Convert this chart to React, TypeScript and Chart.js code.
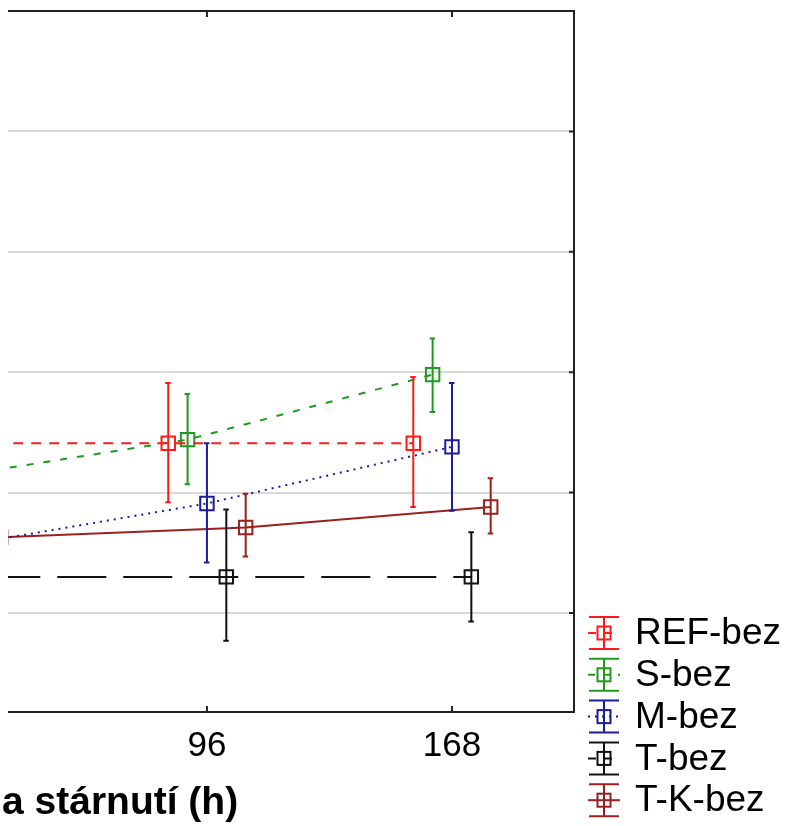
import React, { useEffect, useRef } from 'react';
import { Chart, registerables } from 'chart.js';

Chart.register(...registerables);

// ---- data ----
const categories = ['24', '96', '168'];
const seriesNames = ['REF-bez', 'S-bez', 'M-bez', 'T-bez', 'T-K-bez'];

const refMean = [2.41, 2.41, 2.41];
const refLow = [1.9, 1.92, 1.88];
const refHigh = [2.92, 2.91, 2.96];

const sMean = [2.12, 2.44, 2.98];
const sLow = [1.8, 2.07, 2.67];
const sHigh = [2.44, 2.82, 3.28];

const mMean = [1.56, 1.91, 2.38];
const mLow = [1.1, 1.42, 1.85];
const mHigh = [2.02, 2.41, 2.91];

const tMean = [1.3, 1.3, 1.3];
const tLow = [0.85, 0.77, 0.93];
const tHigh = [1.75, 1.86, 1.67];

const tkMean = [1.63, 1.71, 1.88];
const tkLow = [1.38, 1.47, 1.66];
const tkHigh = [1.88, 1.99, 2.12];

const yGridValues = [1, 2, 3, 4, 5];
const xTickValues = [1, 2];
const xTitle = 'a stárnutí (h)';

// ---- styles ----
const colors = ['#ff1a1a', '#1f9a1f', '#1c1c9c', '#111111', '#9a2020'];
const dashes = [[10, 8], [7, 10], [2, 5], [49, 17], []];
const dashOffsets = [0, 0, 0, -10, 0];
const DODGE = 0.079;
const FONT = '"Liberation Sans", Arial, sans-serif';

const series = [
  { name: seriesNames[0], mean: refMean, low: refLow, high: refHigh },
  { name: seriesNames[1], mean: sMean, low: sLow, high: sHigh },
  { name: seriesNames[2], mean: mMean, low: mLow, high: mHigh },
  { name: seriesNames[3], mean: tMean, low: tLow, high: tHigh },
  { name: seriesNames[4], mean: tkMean, low: tkLow, high: tkHigh },
];

const customPlugin = {
  id: 'customDecor',
  afterDatasetsDraw(chart: any) {
    const { ctx, chartArea, scales } = chart;
    const y = scales.y;
    ctx.save();
    ctx.beginPath();
    ctx.rect(chartArea.left, chartArea.top, chartArea.right - chartArea.left, chartArea.bottom - chartArea.top);
    ctx.clip();
    series.forEach((s, si) => {
      const meta = chart.getDatasetMeta(si);
      ctx.strokeStyle = colors[si];
      ctx.lineWidth = 2;
      ctx.setLineDash([]);
      meta.data.forEach((pt: any, i: number) => {
        const x = pt.x;
        const yt = y.getPixelForValue(s.high[i]);
        const yb = y.getPixelForValue(s.low[i]);
        ctx.beginPath();
        ctx.moveTo(x, yt);
        ctx.lineTo(x, yb);
        ctx.moveTo(x - 3, yt);
        ctx.lineTo(x + 2.5, yt);
        ctx.moveTo(x - 3, yb);
        ctx.lineTo(x + 2.5, yb);
        ctx.stroke();
      });
    });
    ctx.restore();
  },
  afterDraw(chart: any) {
    const { ctx, chartArea, scales } = chart;
    const { left, right, top, bottom } = chartArea;
    ctx.save();
    ctx.strokeStyle = '#222';
    ctx.lineWidth = 2;
    ctx.setLineDash([]);
    ctx.beginPath();
    ctx.moveTo(left, top);
    ctx.lineTo(right, top);
    ctx.lineTo(right, bottom);
    ctx.lineTo(left, bottom);
    ctx.stroke();
    // ticks
    ctx.beginPath();
    xTickValues.forEach((v) => {
      const px = scales.x.getPixelForValue(v);
      ctx.moveTo(px, top);
      ctx.lineTo(px, top + 6);
      ctx.moveTo(px, bottom);
      ctx.lineTo(px, bottom - 6);
    });
    yGridValues.forEach((v) => {
      const py = scales.y.getPixelForValue(v);
      ctx.moveTo(right, py);
      ctx.lineTo(right - 5, py);
    });
    ctx.stroke();

    // x axis title (cropped at the left in the reference)
    ctx.fillStyle = '#000';
    ctx.font = `bold 39px ${FONT}`;
    ctx.textAlign = 'left';
    ctx.textBaseline = 'middle';
    ctx.fillText(xTitle, 2, 803);

    // legend
    const cx = 604;
    const textX = 635;
    const startY = 633;
    const rowH = 41.8;
    series.forEach((s, si) => {
      const cy = startY + si * rowH;
      ctx.strokeStyle = colors[si];
      ctx.lineWidth = 2;
      ctx.setLineDash([]);
      ctx.beginPath();
      ctx.moveTo(cx - 15, cy - 16);
      ctx.lineTo(cx + 15, cy - 16);
      ctx.moveTo(cx - 15, cy + 16);
      ctx.lineTo(cx + 15, cy + 16);
      ctx.moveTo(cx, cy - 16);
      ctx.lineTo(cx, cy + 16);
      ctx.stroke();
      ctx.setLineDash(dashes[si].length ? dashes[si].map((d) => Math.min(d, 8)) : []);
      ctx.beginPath();
      ctx.moveTo(cx - 16, cy);
      ctx.lineTo(cx + 16, cy);
      ctx.stroke();
      ctx.setLineDash([]);
      ctx.strokeRect(cx - 6.5, cy - 6.5, 13, 13);
      ctx.fillStyle = '#000';
      ctx.font = `37px ${FONT}`;
      ctx.textAlign = 'left';
      ctx.textBaseline = 'middle';
      ctx.fillText(s.name, textX, cy + 1);
    });
    ctx.restore();
  },
};

export default function App() {
  const canvasRef = useRef<HTMLCanvasElement | null>(null);

  useEffect(() => {
    if (!canvasRef.current) return;
    const datasets = series.map((s, si) => ({
      label: s.name,
      data: s.mean.map((v, i) => ({ x: i + (si - 2) * DODGE, y: v })),
      borderColor: colors[si],
      backgroundColor: colors[si],
      borderWidth: 2,
      borderDash: dashes[si],
      borderDashOffset: dashOffsets[si],
      pointStyle: 'rect',
      pointRadius: 9.5,
      pointBorderWidth: 2,
      pointBorderColor: colors[si],
      pointBackgroundColor: 'rgba(0,0,0,0)',
      tension: 0,
      clip: 0,
      fill: false,
    }));

    const chart = new Chart(canvasRef.current, {
      type: 'line',
      data: { datasets } as any,
      plugins: [customPlugin],
      options: {
        animation: false,
        responsive: false,
        devicePixelRatio: 1,
        layout: { autoPadding: false, padding: { left: 8, top: 11, right: 216, bottom: 0 } },
        plugins: { legend: { display: false }, tooltip: { enabled: false } },
        scales: {
          x: {
            type: 'linear',
            min: 0.188,
            max: 2.498,
            afterBuildTicks: (s: any) => {
              s.ticks = xTickValues.map((v) => ({ value: v }));
            },
            afterFit: (s: any) => {
              s.height = 114;
            },
            ticks: {
              callback: (v: any) => categories[v] ?? '',
              font: { size: 35, family: FONT },
              color: '#000',
              padding: 13,
              autoSkip: false,
              maxRotation: 0,
            },
            grid: { display: false, drawTicks: false },
            border: { display: false },
            title: { display: false },
          },
          y: {
            type: 'linear',
            position: 'right',
            min: 0.178,
            max: 6,
            afterBuildTicks: (s: any) => {
              s.ticks = yGridValues.map((v) => ({ value: v }));
            },
            ticks: { display: false },
            grid: { color: '#d9d9d9', lineWidth: 2, drawTicks: false },
            border: { display: false },
          },
        },
      } as any,
    });
    return () => chart.destroy();
  }, []);

  return (
    <div style={{ position: 'fixed', left: 0, top: 0, width: 790, height: 826, background: '#fff' }}>
      <canvas ref={canvasRef} width={790} height={826} />
    </div>
  );
}
